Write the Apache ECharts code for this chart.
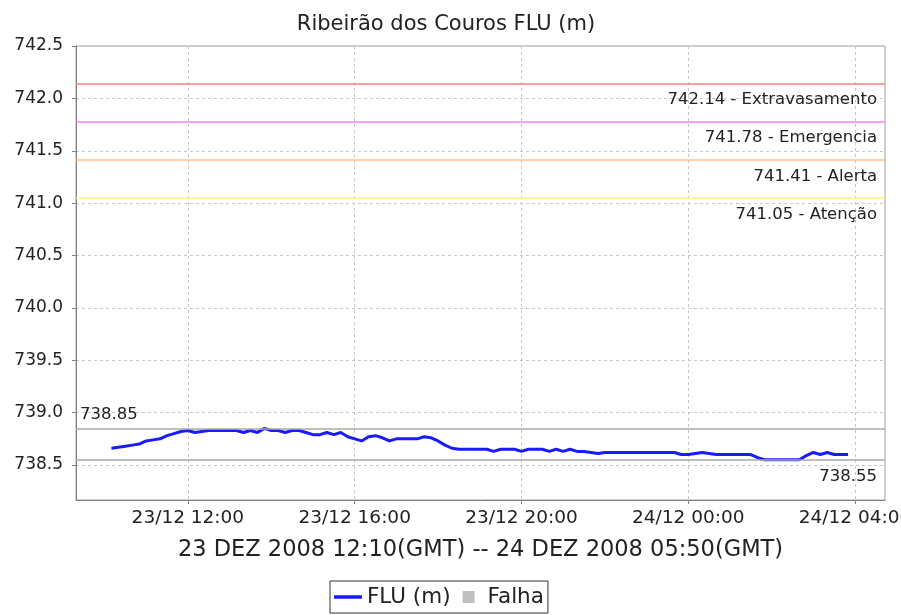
<!DOCTYPE html>
<html>
<head>
<meta charset="utf-8">
<script src="https://cdn.jsdelivr.net/npm/echarts@6/dist/echarts.min.js"></script>
<style>
  html, body { margin: 0; padding: 0; background: #fff; }
  #chart { width: 901px; height: 615px; }
</style>
</head>
<body>
<div id="chart"></div>
<script>
// level readings, every 10 min from 23/12 10:10 local (12:10 GMT)
const startHour = 10 + 10 / 60;
const stepMinutes = 10;
const levels = [
  738.66, 738.67, 738.68, 738.69, 738.70, 738.73, 738.74, 738.75, 738.78, 738.80,
  738.82, 738.83, 738.81, 738.82, 738.83, 738.83, 738.83, 738.83, 738.83, 738.81,
  738.83, 738.81, 738.85, 738.83, 738.83, 738.81, 738.83, 738.83, 738.81, 738.79,
  738.79, 738.81, 738.79, 738.81, 738.77, 738.75, 738.73, 738.77, 738.78, 738.76,
  738.73, 738.75, 738.75, 738.75, 738.75, 738.77, 738.76, 738.73, 738.69, 738.66,
  738.65, 738.65, 738.65, 738.65, 738.65, 738.63, 738.65, 738.65, 738.65, 738.63,
  738.65, 738.65, 738.65, 738.63, 738.65, 738.63, 738.65, 738.63, 738.63, 738.62,
  738.61, 738.62, 738.62, 738.62, 738.62, 738.62, 738.62, 738.62, 738.62, 738.62,
  738.62, 738.62, 738.60, 738.60, 738.61, 738.62, 738.61, 738.60, 738.60, 738.60,
  738.60, 738.60, 738.60, 738.57, 738.55, 738.55, 738.55, 738.55, 738.55, 738.55,
  738.59, 738.62, 738.60, 738.62, 738.60, 738.60, 738.60
];

const thresholdValues = [742.14, 741.78, 741.41, 741.05];
const thresholdNames = ['Extravasamento', 'Emergencia', 'Alerta', 'Atenção'];
const thresholdColors = ['#ff8080', '#ff80ff', '#ffc08c', '#fff080'];
const maxLevel = 738.85;
const minLevel = 738.55;

const yTicks = [738.5, 739.0, 739.5, 740.0, 740.5, 741.0, 741.5, 742.0, 742.5];
const xTicks = [12, 16, 20, 24, 28]; // hours from 23/12 00:00

const seriesData = levels.map((v, i) => [startHour + i * stepMinutes / 60, v]);

const font = 'DejaVu Sans';
const pad = (n) => String(n).padStart(2, '0');
const hourLabel = (h) => `${23 + Math.floor(h / 24)}/12 ${pad(h % 24)}:00`;

const markData = thresholdValues.map((v, i) => ({
  yAxis: v,
  lineStyle: { color: thresholdColors[i], type: 'solid', width: 1.5 },
  label: { formatter: `${v.toFixed(2)} - ${thresholdNames[i]}`, position: 'insideEndBottom' },
}));
markData.push({
  yAxis: maxLevel,
  lineStyle: { color: '#a8a8a8', type: 'solid', width: 1.5 },
  label: { formatter: maxLevel.toFixed(2), position: 'insideStartTop', distance: [4, 5] },
});
markData.push({
  yAxis: minLevel,
  lineStyle: { color: '#a8a8a8', type: 'solid', width: 1.5 },
  label: { formatter: minLevel.toFixed(2), position: 'insideEndBottom' },
});

const chart = echarts.init(document.getElementById('chart'), null, { renderer: 'canvas' });
chart.setOption({
  backgroundColor: '#fff',
  animation: false,
  textStyle: { fontFamily: font },
  title: {
    text: 'Ribeirão dos Couros FLU (m)',
    left: 441, top: 9, textAlign: 'center',
    textStyle: { fontFamily: font, fontSize: 21, fontWeight: 'normal', color: '#222' },
  },
  grid: {
    left: 76, right: 16, top: 46, bottom: 115, outerBoundsMode: 'none',
    show: true, borderColor: '#a0a0a0', borderWidth: 1, backgroundColor: '#fff',
  },
  xAxis: {
    type: 'value', min: 9.317, max: 28.719,
    name: '23 DEZ 2008 12:10(GMT) -- 24 DEZ 2008 05:50(GMT)',
    nameLocation: 'middle', nameGap: 39,
    nameTextStyle: { fontFamily: font, fontSize: 22.5, color: '#222' },
    axisLine: { lineStyle: { color: '#808080' } },
    axisTick: { customValues: xTicks, length: 4, lineStyle: { color: '#808080' } },
    axisLabel: {
      customValues: xTicks, formatter: hourLabel, margin: 9,
      fontFamily: font, fontSize: 18.5, color: '#222',
    },
    splitLine: { show: true, lineStyle: { color: '#c8c8c8', type: [3, 3] } },
  },
  yAxis: {
    type: 'value', min: 738.166, max: 742.5,
    axisLine: { show: true, lineStyle: { color: '#808080' } },
    axisTick: { show: true, customValues: yTicks, length: 4, lineStyle: { color: '#808080' } },
    axisLabel: {
      customValues: yTicks, formatter: (v) => v.toFixed(1), margin: 13,
      fontFamily: font, fontSize: 17, color: '#222',
    },
    splitLine: { show: true, lineStyle: { color: '#c8c8c8', type: [3, 3] } },
  },
  legend: {
    left: 330, bottom: 2,
    data: [
      { name: 'FLU (m)', icon: 'path://M0,0H24V3H0Z' },
      { name: 'Falha', icon: 'path://M0,0H10V10H0Z' },
    ],
    itemWidth: 28, itemHeight: 12, itemGap: 12,
    borderColor: '#333', borderWidth: 1, padding: [5, 4, 5, 4],
    textStyle: { fontFamily: font, fontSize: 21.5, color: '#222' },
  },
  series: [
    {
      name: 'FLU (m)', type: 'line', data: seriesData,
      symbol: 'none', color: '#1a1aff',
      lineStyle: { width: 3, color: '#1a1aff' },
      markLine: {
        silent: true, symbol: 'none',
        label: {
          fontFamily: font, fontSize: 16.5, color: '#222', distance: [8, 8],
        },
        data: markData,
      },
    },
    { name: 'Falha', type: 'line', data: [], color: '#c0c0c0' },
  ],
});
</script>
</body>
</html>
